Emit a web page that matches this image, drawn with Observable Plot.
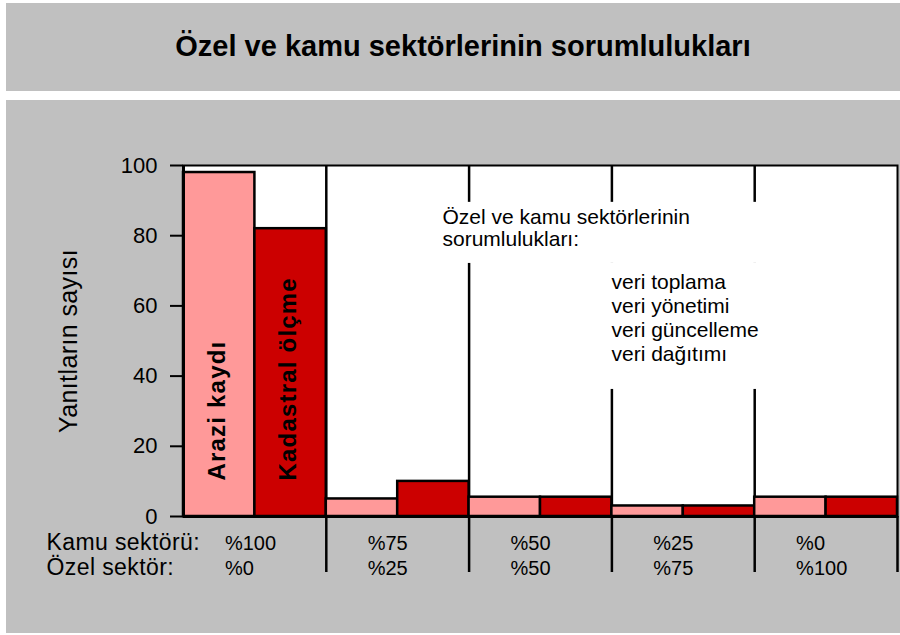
<!DOCTYPE html>
<html>
<head>
<meta charset="utf-8">
<script src="https://cdn.jsdelivr.net/npm/d3@7"></script>
<script src="https://cdn.jsdelivr.net/npm/@observablehq/plot@0.6"></script>
<style>
  html, body { margin: 0; padding: 0; background: #ffffff; }
  body { width: 900px; height: 635px; position: relative; overflow: hidden; font-family: "Liberation Sans", Arial, sans-serif; }
  #banner { position: absolute; left: 6px; top: 3px; width: 894px; height: 88px; background: #c0c0c0; }
  #title { position: absolute; left: 0; width: 100%; top: 29px; padding-left: 20px; box-sizing: border-box; text-align: center;
           font-size: 29px; line-height: 28px; font-weight: bold; color: #000; }
  #panel { position: absolute; left: 6px; top: 100px; width: 894px; height: 533px; background: #c0c0c0; }
</style>
</head>
<body>
<div id="banner"><div id="title">Özel ve kamu sektörlerinin sorumlulukları</div></div>
<div id="panel"></div>
<script>
// ---- data ----
const series = ["Arazi kaydı", "Kadastral ölçme"];
const kamuLabels = ["%100", "%75", "%50", "%25", "%0"];
const ozelLabels = ["%0", "%25", "%50", "%75", "%100"];
const araziValues = [98, 5, 5.5, 3, 5.5];
const kadastralValues = [82, 10, 5.5, 3, 5.5];
const yTicks = [0, 20, 40, 60, 80, 100];
const rowLabels = ["Kamu sektörü:", "Özel sektör:"];
const yLabel = "Yanıtların sayısı";
const noteTitle = ["Özel ve kamu sektörlerinin", "sorumlulukları:"];
const noteItems = ["veri toplama", "veri yönetimi", "veri güncelleme", "veri dağıtımı"];

// ---- table built from arrays ----
const bars = [];
kamuLabels.forEach((k, i) => {
  [araziValues, kadastralValues].forEach((vals, j) => {
    bars.push({group: i, series: series[j], x1: 2 * i + j, x2: 2 * i + j + 1, value: vals[i]});
  });
});
const boundaries = kamuLabels.map((d, i) => 2 * (i + 1));
const innerBoundaries = boundaries.slice(0, -1);
const firstGroup = bars.filter(d => d.group === 0);

// white backgrounds behind the annotation text (data units)
const noteBoxes = [
  {x1: 3.6, x2: 8.7, y1: 72.1, y2: 89.5},
  {x1: 5.85, x2: 8.7, y1: 36.2, y2: 72.1}
];

const chart = Plot.plot({
  width: 894,
  height: 533,
  marginLeft: 177,
  marginRight: 3,
  marginTop: 65,
  marginBottom: 117,
  x: {domain: [0, 2 * kamuLabels.length], axis: null},
  y: {domain: [0, 100], axis: null},
  color: {domain: series, range: ["#ff9999", "#cc0000"]},
  style: {background: "transparent", fontFamily: "'Liberation Sans', Arial, sans-serif", overflow: "visible", color: "black"},
  marks: [
    Plot.frame({fill: "white", stroke: "black", strokeWidth: 2}),
    Plot.ruleX(innerBoundaries, {stroke: "black", strokeWidth: 2.5}),
    Plot.rect(noteBoxes, {x1: "x1", x2: "x2", y1: "y1", y2: "y2", fill: "white"}),
    Plot.rectY(bars, {x1: "x1", x2: "x2", y1: 0, y2: "value", fill: "series", stroke: "black", strokeWidth: 2.5}),
    Plot.text(firstGroup, {x: d => (d.x1 + d.x2) / 2, frameAnchor: "bottom", dy: -36, dx: -2, text: "series",
      rotate: -90, textAnchor: "start", lineAnchor: "middle", fontWeight: "bold", fontSize: 24, fill: "black"}),
    Plot.text([noteTitle.join("\n")], {frameAnchor: "top-left", dx: 259, dy: 43, textAnchor: "start", lineAnchor: "top",
      lineHeight: 1.05, fontSize: 21, fill: "black"}),
    Plot.text([noteItems.join("\n")], {frameAnchor: "top-left", dx: 428, dy: 107, textAnchor: "start", lineAnchor: "top",
      lineHeight: 1.13, fontSize: 21, fill: "black"}),
    Plot.axisY({ticks: yTicks, tickSize: 13, tickPadding: 13, fontSize: 22, strokeWidth: 2, label: null}),
    Plot.axisX({ticks: boundaries, tickSize: 56, tickFormat: () => "", strokeWidth: 2.5, label: null}),
    Plot.ruleY([0], {stroke: "black", strokeWidth: 3}),
    Plot.ruleX([0], {stroke: "black", strokeWidth: 3}),
    Plot.text(kamuLabels, {x: (d, i) => 2 * i + 0.58, frameAnchor: "bottom", dy: 33, textAnchor: "start", lineAnchor: "bottom", fontSize: 20, fill: "black"}),
    Plot.text(ozelLabels, {x: (d, i) => 2 * i + 0.58, frameAnchor: "bottom", dy: 58, textAnchor: "start", lineAnchor: "bottom", fontSize: 20, fill: "black"}),
    Plot.text([rowLabels[0]], {frameAnchor: "bottom-left", dx: -137, dy: 33, textAnchor: "start", lineAnchor: "bottom", fontSize: 23, fill: "black"}),
    Plot.text([rowLabels[1]], {frameAnchor: "bottom-left", dx: -137, dy: 58, textAnchor: "start", lineAnchor: "bottom", fontSize: 23, fill: "black"}),
    Plot.text([yLabel], {frameAnchor: "left", dx: -115, rotate: -90, textAnchor: "middle", lineAnchor: "middle", fontSize: 25, fill: "black"})
  ]
});

// letter spacing tweaks (matched by text content) to follow the reference's wider text
const spacing = new Map([
  ...series.map(s => [s, "1.2px"]),
  [yLabel, "0.4px"],
  ...rowLabels.map(s => [s, "0.4px"])
]);
d3.select(chart).selectAll("text").each(function() {
  const t = this.textContent;
  if (spacing.has(t)) this.style.letterSpacing = spacing.get(t);
});

document.getElementById("panel").appendChild(chart);
</script>
</body>
</html>
